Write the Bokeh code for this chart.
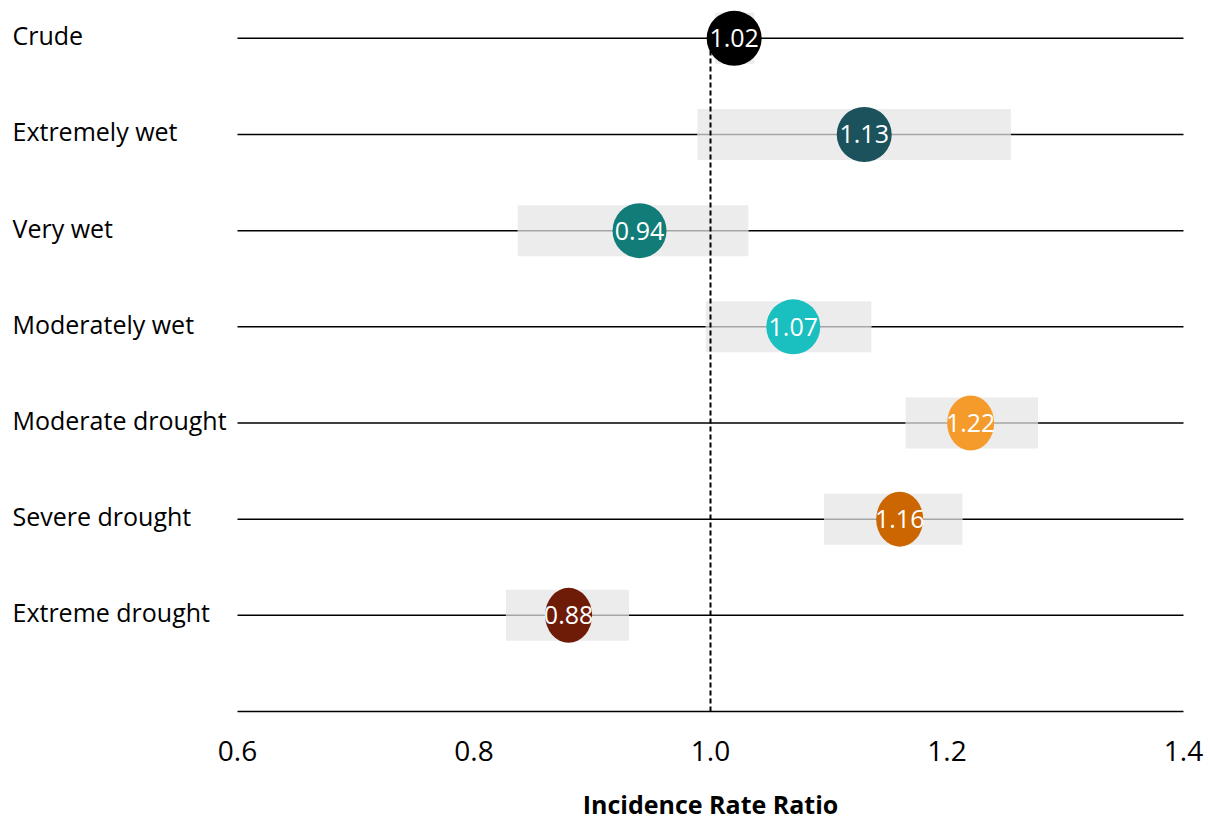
from bokeh.plotting import figure
from bokeh.models import Range1d, ColumnDataSource
from bokeh.core.properties import value
from bokeh.embed import file_html
from bokeh.resources import INLINE

# Incidence rate ratios by drought / wetness category
categories = ["Crude", "Extremely wet", "Very wet", "Moderately wet",
              "Moderate drought", "Severe drought", "Extreme drought"]
irr = [1.02, 1.13, 0.94, 1.07, 1.22, 1.16, 0.88]
ci_low = [1.004, 0.989, 0.837, 0.996, 1.165, 1.096, 0.827]
ci_high = [1.037, 1.254, 1.032, 1.136, 1.277, 1.213, 0.931]
colors = ["#000000", "#1b525c", "#127d78", "#1abfbf",
          "#f59b2b", "#cc6600", "#6e1b08"]
dot_w = [55, 55, 54, 54, 47, 47, 47]
x_ticks = [0.6, 0.8, 1.0, 1.2, 1.4]
x_title = "Incidence Rate Ratio"

W, H = 1210, 821
PX_X = 1182.5   # pixels per unit of rate ratio
PX_Y = 96.17    # pixels per row
x_lo, x_hi = x_ticks[0], x_ticks[-1]

n = len(categories)
ypos = [n - i for i in range(n)]  # top row first
label_x = x_lo - 225 / PX_X

src = ColumnDataSource(dict(
    cat=categories, irr=irr, lo=ci_low, hi=ci_high, y=ypos, color=colors,
    w=dot_w, lbl=[f"{v:.2f}" for v in irr],
    x0=[x_lo] * n, x1=[x_hi] * n, lx=[label_x] * n,
    ly=[v + 3 / PX_Y for v in ypos],
))

# the frame fills the canvas so that the row labels and the axis
# texts can sit outside the 0.6-1.4 data window
p = figure(width=W, height=H, output_backend="svg", toolbar_location=None,
           x_range=Range1d(x_lo - 237 / PX_X, x_lo + (W - 237) / PX_X),
           y_range=Range1d(-(H - 711) / PX_Y, 711 / PX_Y),
           min_border=0)
p.outline_line_color = None
p.grid.visible = False
p.axis.visible = False
p.background_fill_color = "white"
p.border_fill_color = "white"

# row reference lines
p.segment(x0="x0", x1="x1", y0="y", y1="y", source=src,
          line_color="black", line_width=1.5)

# confidence interval bands
p.hbar(y="y", left="lo", right="hi", height=0.53, source=src,
       fill_color="#ececec", line_color=None)
p.segment(x0="lo", x1="hi", y0="y", y1="y", source=src,
          line_color="#a6a6a6", line_width=1.5)

# null value line
p.segment(x0=[1.0], x1=[1.0], y0=[0], y1=[n], line_color="black",
          line_width=2, line_dash="5 3")

# point estimates
p.ellipse(x="irr", y="y", width="w", height=55, width_units="screen",
          height_units="screen", source=src, fill_color="color",
          line_color=None)
p.text(x="irr", y="y", text="lbl", source=src, text_color="white",
       text_font=value("Open Sans"), text_font_size="25px",
       text_align="center", text_baseline="middle")

# category labels on the left
p.text(x="lx", y="ly", text="cat", source=src, text_color="black",
       text_font=value("Open Sans"), text_font_size="25px",
       text_align="left", text_baseline="middle")

# x axis: line, tick labels and title
p.segment(x0=[x_lo], x1=[x_hi], y0=[0], y1=[0], line_color="black",
          line_width=1.5)
p.text(x=x_ticks, y=[-39 / PX_Y] * len(x_ticks),
       text=[f"{t:.1f}" for t in x_ticks], text_color="black",
       text_font=value("Open Sans"), text_font_size="28px",
       text_align="center", text_baseline="middle")
p.text(x=[(x_lo + x_hi) / 2], y=[-92 / PX_Y], text=[x_title],
       text_color="black", text_font=value("Open Sans"),
       text_font_style="bold", text_font_size="25px",
       text_align="center", text_baseline="middle")

open("out.html", "w").write(file_html(p, INLINE))
